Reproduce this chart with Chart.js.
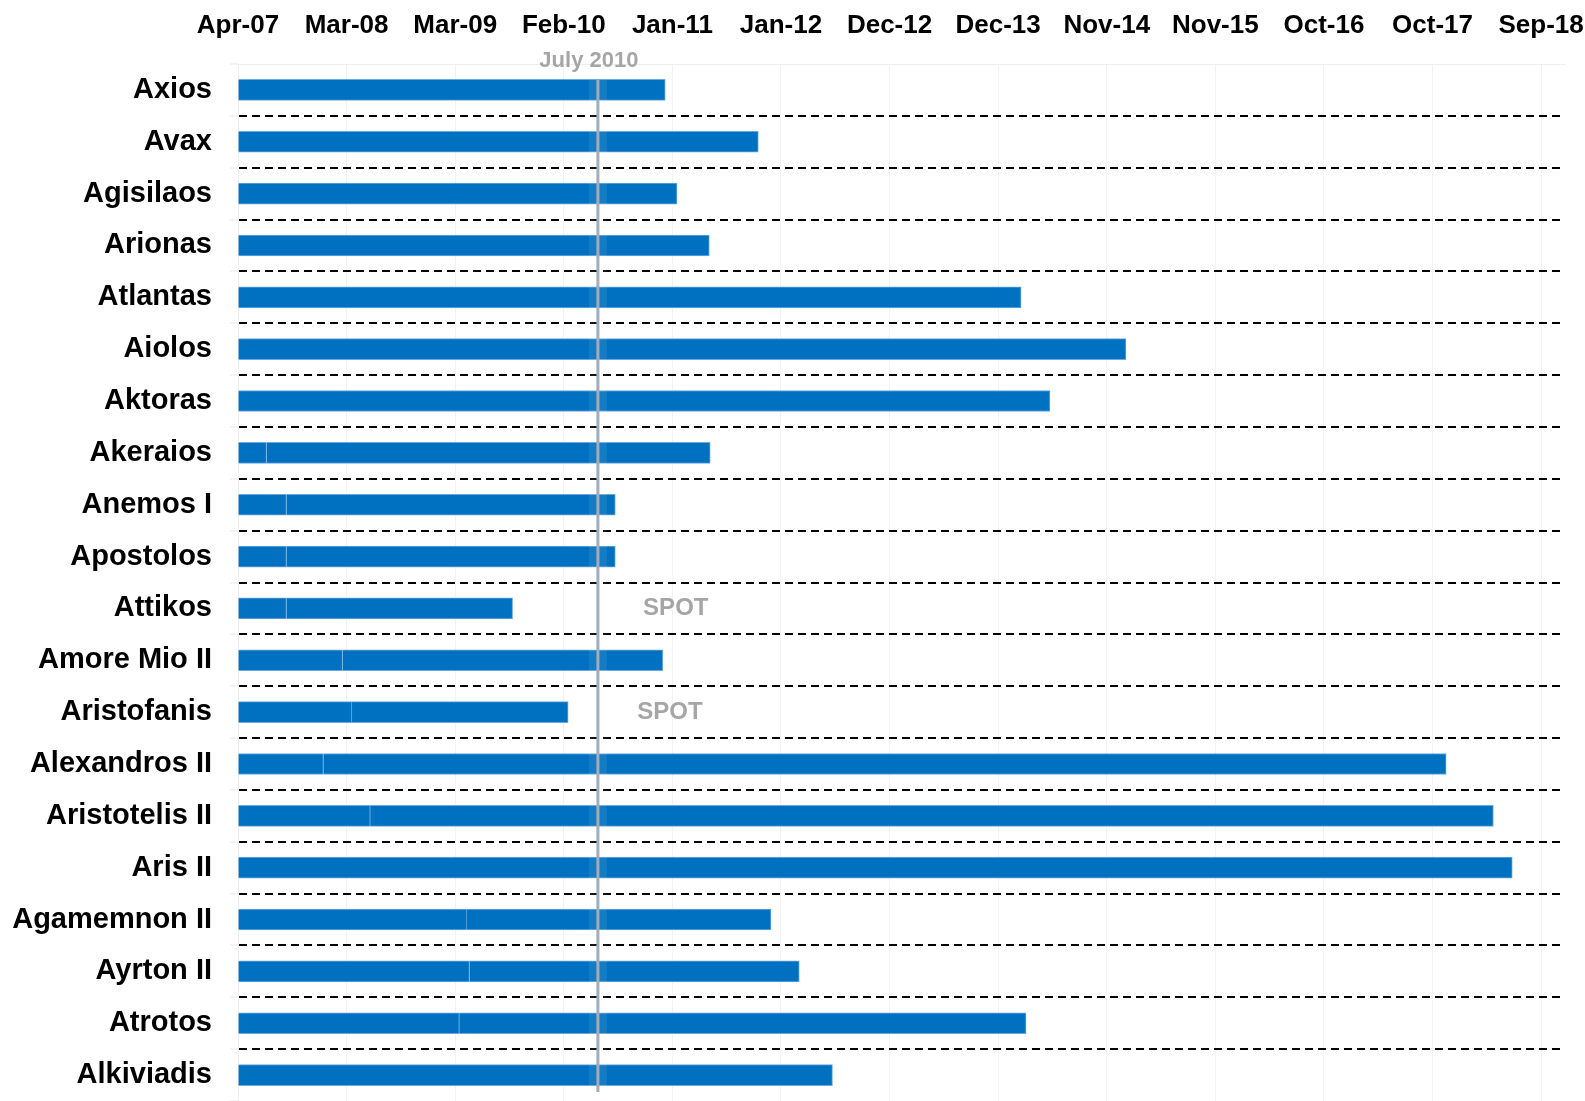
<!DOCTYPE html>
<html>
<head>
    <meta charset="utf-8">
    <title>Charter periods by vessel</title>
    <script src="https://cdn.jsdelivr.net/npm/chart.js"></script>
    <style>
        body {
            margin: 0;
            background: #ffffff;
        }

        #wrap {
            width: 1585px;
            height: 1101px;
        }
    </style>
</head>
<body>
<div id="wrap">
    <canvas id="charterChart" width="1585" height="1101"></canvas>
</div>

<script>
    // vessels, top to bottom
    const vessels = ['Axios', 'Avax', 'Agisilaos', 'Arionas', 'Atlantas', 'Aiolos', 'Aktoras', 'Akeraios',
        'Anemos I', 'Apostolos', 'Attikos', 'Amore Mio II', 'Aristofanis', 'Alexandros II', 'Aristotelis II',
        'Aris II', 'Agamemnon II', 'Ayrton II', 'Atrotos', 'Alkiviadis'];

    // where the charter period ends
    const periodEnd = ['2011-01-07', '2011-11-03', '2011-02-14', '2011-05-29', '2014-02-27', '2015-01-31',
        '2014-05-31', '2011-06-01', '2010-07-30', '2010-07-30', '2009-09-02', '2010-12-30', '2010-02-28',
        '2017-11-28', '2018-04-29', '2018-06-29', '2011-12-14', '2012-03-14', '2014-03-15', '2012-06-29'];

    // where the first segment of the bar stops (null = one piece)
    const firstSegmentEnd = [null, null, null, null, null, null, null, '2007-07-02', '2007-09-04', '2007-09-04',
        '2007-09-04', '2008-03-03', '2008-04-02', '2008-01-01', '2008-05-31', null, '2009-04-08', '2009-04-16',
        '2009-03-14', null];

    const axisStart = '2007-04-01';
    const axisEnd = '2018-12-16';
    const tickStepDays = 350;
    const tickLabels = ['Apr-07', 'Mar-08', 'Mar-09', 'Feb-10', 'Jan-11', 'Jan-12', 'Dec-12', 'Dec-13',
        'Nov-14', 'Nov-15', 'Oct-16', 'Oct-17', 'Sep-18'];

    const markerDate = '2010-06-04';
    const markerLabel = 'July 2010';

    const spotVessels = ['Attikos', 'Aristofanis'];
    const spotDates = ['2011-02-10', '2011-01-22'];

    const FONT = "'Liberation Sans', Arial, sans-serif";

    function toDays(s) {
        return (Date.parse(s) - Date.parse(axisStart)) / 86400000;
    }

    const firstLeg = firstSegmentEnd.map(s => s ? toDays(s) : null);
    const secondLeg = periodEnd.map((e, i) => toDays(e) - (firstSegmentEnd[i] ? toDays(firstSegmentEnd[i]) : 0));

    // vertical marker line + SPOT notes
    const markerPlugin = {
        id: 'marker',
        afterDatasetsDraw(chart) {
            const {ctx, chartArea, scales: {x, y}} = chart;
            const px = x.getPixelForValue(toDays(markerDate));
            const top = y.getPixelForValue(0) - 10;
            const bottom = y.getPixelForValue(vessels.length - 1) + 17;

            ctx.save();
            ctx.fillStyle = 'rgba(255, 255, 255, 0.08)';
            ctx.fillRect(px - 9, top, 18, bottom - top);
            ctx.strokeStyle = '#a3acbb';
            ctx.lineWidth = 3;
            ctx.beginPath();
            ctx.moveTo(px, top);
            ctx.lineTo(px, bottom);
            ctx.stroke();

            ctx.fillStyle = '#a6a6a6';
            ctx.font = 'bold 22px ' + FONT;
            ctx.textAlign = 'center';
            ctx.textBaseline = 'alphabetic';
            ctx.fillText(markerLabel, px - 9, chartArea.top + 3);

            ctx.font = 'bold 24px ' + FONT;
            ctx.textBaseline = 'middle';
            spotVessels.forEach((name, i) => {
                ctx.fillText('SPOT', x.getPixelForValue(toDays(spotDates[i])), y.getPixelForValue(vessels.indexOf(name)));
            });
            ctx.restore();
        }
    };

    new Chart(document.getElementById('charterChart'), {
        type: 'bar',
        data: {
            labels: vessels,
            datasets: [
                {
                    label: 'First segment',
                    data: firstLeg,
                    backgroundColor: '#0070c0',
                    borderColor: '#6aa9e0',
                    borderWidth: 1,
                    barThickness: 21
                },
                {
                    label: 'Charter',
                    data: secondLeg,
                    backgroundColor: '#0070c0',
                    borderColor: '#6aa9e0',
                    borderWidth: 1,
                    barThickness: 21
                }
            ]
        },
        options: {
            indexAxis: 'y',
            responsive: false,
            animation: false,
            layout: {
                padding: {left: 0, right: 20, top: 11, bottom: 0}
            },
            plugins: {
                legend: {display: false},
                tooltip: {enabled: false}
            },
            scales: {
                x: {
                    type: 'linear',
                    position: 'top',
                    stacked: true,
                    min: 0,
                    max: toDays(axisEnd),
                    afterBuildTicks: axis => {
                        axis.ticks = tickLabels.map((l, i) => ({value: i * tickStepDays}));
                    },
                    afterFit: axis => {
                        axis.height = 53;
                        axis.paddingLeft = 0;
                        axis.paddingRight = 0;
                    },
                    ticks: {
                        callback: (value, index) => tickLabels[index],
                        color: '#000',
                        autoSkip: false,
                        maxRotation: 0,
                        padding: 23,
                        font: {family: FONT, size: 26, weight: 'bold'}
                    },
                    grid: {
                        color: '#f2f2f2',
                        drawTicks: false
                    },
                    border: {color: '#eeeeee'}
                },
                y: {
                    stacked: true,
                    afterFit: axis => {
                        axis.width = 238;
                        axis.paddingTop = 0;
                        axis.paddingBottom = 0;
                    },
                    ticks: {
                        color: '#000',
                        autoSkip: false,
                        padding: 18,
                        font: {family: FONT, size: 29, weight: 'bold'}
                    },
                    grid: {
                        // dashed separators only between vessels
                        color: ctx => (ctx.type === 'tick' && ctx.index > 0) ? '#000000' : 'rgba(0,0,0,0)',
                        lineWidth: 2,
                        tickColor: '#e6e6e6',
                        tickLength: 8,
                        tickWidth: 1,
                        tickBorderDash: []
                    },
                    border: {color: '#eeeeee', dash: [8, 5]}
                }
            }
        },
        plugins: [markerPlugin]
    });
</script>
</body>
</html>
